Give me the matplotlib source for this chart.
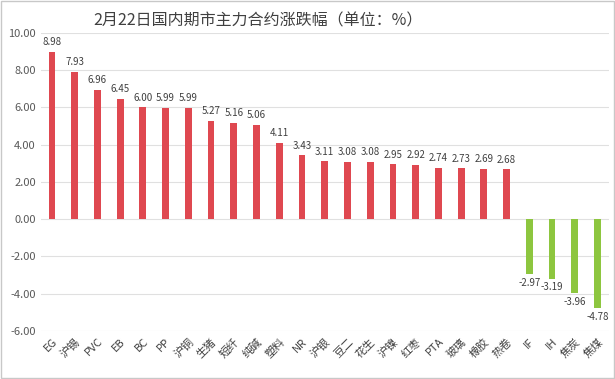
import matplotlib
matplotlib.use('Agg')
import matplotlib.pyplot as plt
import numpy as np

plt.rcParams['font.family'] = ['Noto Sans CJK SC', 'DejaVu Sans']

# data
names = ['EG', '沪锡', 'PVC', 'EB', 'BC', 'PP', '沪铜', '生猪', '短纤', '纯碱',
         '塑料', 'NR', '沪银', '豆二', '花生', '沪镍', '红枣', 'PTA', '玻璃', '橡胶',
         '热卷', 'IF', 'IH', '焦炭', '焦煤']
changes = [8.98, 7.93, 6.96, 6.45, 6.00, 5.99, 5.99, 5.27, 5.16, 5.06,
           4.11, 3.43, 3.11, 3.08, 3.08, 2.95, 2.92, 2.74, 2.73, 2.69,
           2.68, -2.97, -3.19, -3.96, -4.78]
yticks = [10, 8, 6, 4, 2, 0, -2, -4, -6]

red = '#DF4850'
green = '#8DC63F'

fig = plt.figure(figsize=(6.15, 3.79), dpi=100)
ax = fig.add_axes([0.066, 0.127, 0.924, 0.786])

x = np.arange(len(names))
vals = np.array(changes)
cols = [red if v >= 0 else green for v in vals]
ax.bar(x, vals, width=0.3, color=cols, zorder=3)

for xi, v in zip(x, vals):
    if v >= 0:
        ax.text(xi, v + 0.25, '%.2f' % v, ha='center', va='bottom', fontsize=7, color='#404040')
    else:
        ax.text(xi, v - 0.2, '%.2f' % v, ha='center', va='top', fontsize=7, color='#404040')

ax.set_xlim(-0.5, len(names) - 0.5)
ax.set_ylim(-6, 10)
ax.set_yticks(yticks)
ax.set_yticklabels(['%.2f' % t for t in yticks], fontsize=8, color='#595959')
ax.set_xticks(x)
ax.set_xticklabels(names, rotation=45, ha='right', rotation_mode='anchor', fontsize=8, color='#404040')
ax.tick_params(axis='both', length=0)
ax.tick_params(axis='x', pad=4)
ax.grid(axis='y', color='#E0E0E0', linewidth=0.8, zorder=0)
for s in ax.spines.values():
    s.set_visible(False)

fig.text(0.42, 0.945, '2月22日国内期市主力合约涨跌幅（单位：%）', ha='center', va='center',
         fontsize=11.5, color='#404040')

# light frame around the picture
fig.patches.append(plt.Rectangle((0.002, 0.003), 0.996, 0.994, transform=fig.transFigure,
                                 fill=False, edgecolor='#C8C8C8', linewidth=1))

fig.savefig('out.png', dpi=100, facecolor='white')
